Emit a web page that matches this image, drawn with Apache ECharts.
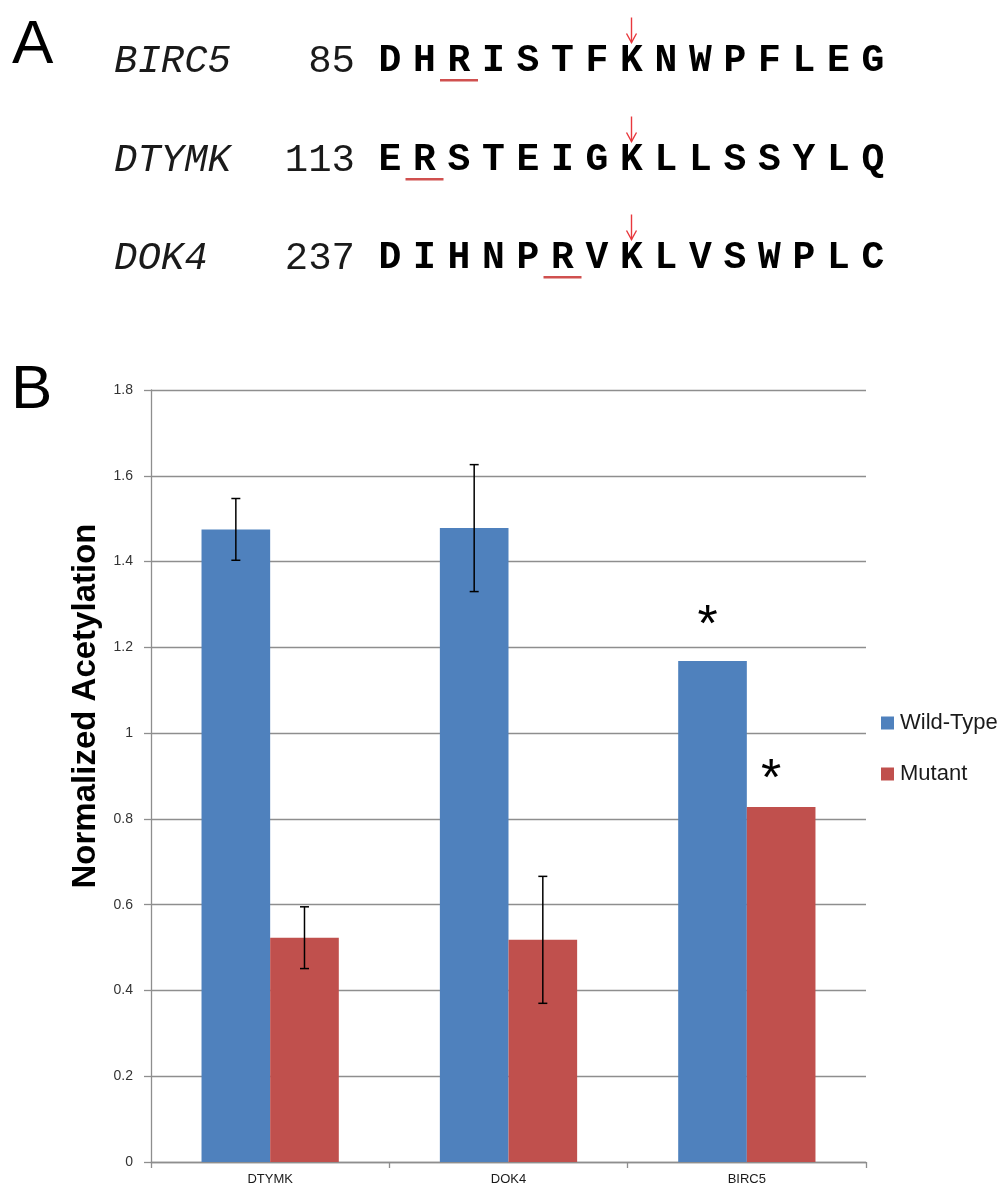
<!DOCTYPE html>
<html>
<head>
<meta charset="utf-8">
<script src="https://cdn.jsdelivr.net/npm/echarts/dist/echarts.min.js"></script>
<style>
  html, body { margin: 0; padding: 0; background: #fff; }
  #chart { width: 1000px; height: 1191px; }
</style>
</head>
<body>
<div id="chart"></div>
<script>
// panel A: sequence alignment
const genes = ['BIRC5', 'DTYMK', 'DOK4'];
const startPos = [85, 113, 237];
const sequences = ['DHRISTFKNWPFLEG', 'ERSTEIGKLLSSYLQ', 'DIHNPRVKLVSWPLC'];
const underlineIdx = [2, 1, 5];
const arrowIdx = 7;

// panel B: bar chart
const categories = ['DTYMK', 'DOK4', 'BIRC5'];
const wildType = [1.475, 1.478, 1.168];
const mutant = [0.523, 0.518, 0.828];
const wildTypeErr = [0.072, 0.148, null];
const mutantErr = [0.072, 0.148, null];
const starred = [false, false, true];

const BAR_PCT = 0.288;
const sans = 'Liberation Sans, Arial, sans-serif';
const mono = 'Liberation Mono, Courier New, monospace';

let chart = echarts.init(document.getElementById('chart'));

// build the panel A graphics
let rowY = [61.5, 160.5, 258.5];
let seqX0 = 390, seqStep = 34.5;
let gfx = [];
gfx.push({type: 'text', left: 12, top: 15, style: {text: 'A', font: '62px ' + sans, fill: '#000'}});
gfx.push({type: 'text', left: 11, top: 360, style: {text: 'B', font: '62px ' + sans, fill: '#000'}});
genes.forEach((g, r) => {
  let y = rowY[r];
  gfx.push({type: 'text', x: 114, y: y, style: {text: g, font: 'italic 39px ' + mono, fill: '#1a1a1a', align: 'left', verticalAlign: 'middle'}});
  gfx.push({type: 'text', x: 355, y: y, style: {text: String(startPos[r]), font: '39px ' + mono, fill: '#1a1a1a', align: 'right', verticalAlign: 'middle'}});
  sequences[r].split('').forEach((ch, i) => {
    gfx.push({type: 'text', x: seqX0 + i * seqStep, y: y, style: {text: ch, font: 'bold 38px ' + mono, fill: '#000', align: 'center', verticalAlign: 'middle'}});
  });
  // red underline
  let ux = seqX0 + underlineIdx[r] * seqStep;
  gfx.push({type: 'rect', shape: {x: ux - 19, y: y + 17.5, width: 38, height: 2.5}, style: {fill: '#d0504f'}});
  // red arrow over the K
  let ax = seqX0 + arrowIdx * seqStep;
  gfx.push({type: 'line', shape: {x1: ax, y1: y - 44, x2: ax, y2: y - 19}, style: {stroke: '#e8383d', lineWidth: 1.4}});
  gfx.push({type: 'polyline', shape: {points: [[ax - 5, y - 28], [ax, y - 19], [ax + 5, y - 28]]}, style: {stroke: '#e8383d', lineWidth: 1.4, fill: null}});
});
// y axis title
gfx.push({type: 'text', x: 86, y: 706, rotation: Math.PI / 2,
  style: {text: 'Normalized Acetylation', font: 'bold 33px ' + sans, fill: '#000', align: 'center', verticalAlign: 'middle'}});

function errData(vals, errs) {
  let out = [];
  vals.forEach((v, i) => {
    if (errs[i] != null) out.push([i, v - errs[i], v + errs[i]]);
  });
  return out;
}

function errRender(sign) {
  return function (params, api) {
    let i = api.value(0);
    let lo = api.coord([i, api.value(1)]);
    let hi = api.coord([i, api.value(2)]);
    let bw = api.size([1, 0])[0] * BAR_PCT;
    let cx = lo[0] + sign * bw / 2;
    let st = {stroke: '#000', lineWidth: 1.5};
    return {
      type: 'group',
      children: [
        {type: 'line', shape: {x1: cx, y1: hi[1], x2: cx, y2: lo[1]}, style: st},
        {type: 'line', shape: {x1: cx - 4.5, y1: hi[1], x2: cx + 4.5, y2: hi[1]}, style: st},
        {type: 'line', shape: {x1: cx - 4.5, y1: lo[1], x2: cx + 4.5, y2: lo[1]}, style: st}
      ]
    };
  };
}

function starData(vals, offset) {
  return vals.map((v, i) => {
    if (!starred[i]) return v;
    return {value: v, label: {show: true, position: 'top', formatter: '*', offset: offset,
      fontSize: 52, fontFamily: sans, color: '#000', distance: 0}};
  });
}

chart.setOption({
  backgroundColor: '#fff',
  animation: false,
  graphic: gfx,
  grid: {left: 151, right: 134, top: 390, bottom: 29, containLabel: false},
  legend: {
    orient: 'vertical',
    left: 876,
    top: 707,
    itemWidth: 13,
    itemHeight: 13,
    itemGap: 29,
    icon: 'rect',
    textStyle: {fontSize: 22, lineHeight: 22, fontFamily: sans, color: '#1a1a1a', padding: [0, 0, 0, 1]},
    data: ['Wild-Type', 'Mutant']
  },
  xAxis: {
    type: 'category',
    data: categories,
    axisLine: {lineStyle: {color: '#8e8e8e', width: 1.3}},
    axisTick: {show: true, length: 6, lineStyle: {color: '#8e8e8e', width: 1.3}},
    axisLabel: {fontSize: 13, fontFamily: sans, color: '#1a1a1a', margin: 11}
  },
  yAxis: {
    type: 'value',
    min: 0,
    max: 1.8,
    interval: 0.2,
    axisLine: {show: true, lineStyle: {color: '#8e8e8e', width: 1.3}},
    axisTick: {show: true, length: 7, lineStyle: {color: '#8e8e8e', width: 1.3}},
    axisLabel: {fontSize: 14, fontFamily: sans, color: '#333', margin: 18},
    splitLine: {lineStyle: {color: '#8e8e8e', width: 1.3}}
  },
  series: [
    {
      name: 'Wild-Type',
      type: 'bar',
      barWidth: (BAR_PCT * 100) + '%',
      barGap: '0%',
      itemStyle: {color: '#4f81bd'},
      data: starData(wildType, [-5, -8])
    },
    {
      name: 'Mutant',
      type: 'bar',
      barWidth: (BAR_PCT * 100) + '%',
      barGap: '0%',
      itemStyle: {color: '#c0504d'},
      data: starData(mutant, [-10, 0])
    },
    {
      type: 'custom',
      renderItem: errRender(-1),
      data: errData(wildType, wildTypeErr),
      z: 5,
      silent: true
    },
    {
      type: 'custom',
      renderItem: errRender(1),
      data: errData(mutant, mutantErr),
      z: 5,
      silent: true
    }
  ]
});
</script>
</body>
</html>
